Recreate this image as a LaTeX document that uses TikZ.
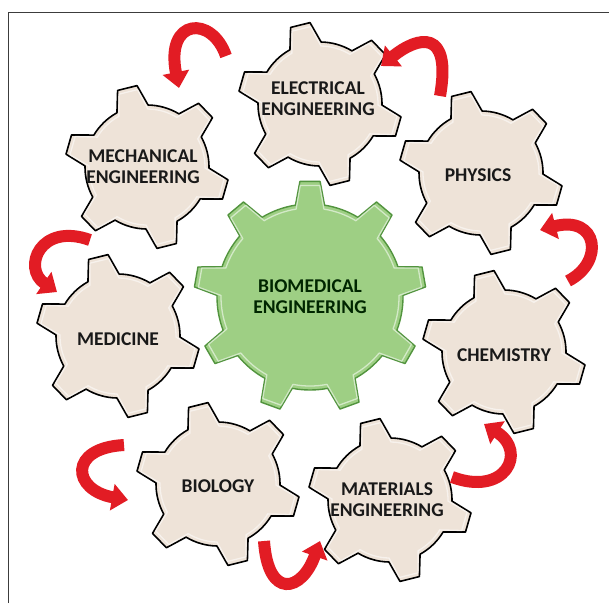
\documentclass[tikz,border=0pt]{standalone}
\usepackage{fontspec}
\setmainfont{Carlito}
\usetikzlibrary{arrows.meta,calc}
\definecolor{beige}{RGB}{238,227,216}
\definecolor{gfill}{RGB}{158,207,132}
\definecolor{gline}{RGB}{82,148,62}
\definecolor{ared}{RGB}{226,28,36}
\definecolor{framecol}{RGB}{60,60,60}
\definecolor{txt}{RGB}{25,25,25}
% #1 style, #2 centre, #3 teeth, #4 r1, #5 r2, #6 offset, #7 base half-angle, #8 tip half-angle
\newcommand\mygear[8]{%
  \pgfmathsetmacro\gstep{360/#3}%
  \begin{scope}[shift={(#2)}]
  \draw[#1] ({#6-#7}:#4)
    \foreach \k [evaluate=\k as \ga using {#6+(\k-1)*\gstep}] in {1,...,#3} {
      -- ({\ga-#8}:#5) -- ({\ga+#8}:#5) -- ({\ga+#7}:#4)
      arc[start angle={\ga+#7}, end angle={\ga+\gstep-#7}, radius=#4]
    } -- cycle;
  \end{scope}}
\tikzset{
  smallgear/.style={fill=beige, draw=black, line width=1.6pt, line join=round},
  biggear/.style={fill=gfill, draw=gline, line width=1.4pt, line join=round},
  gloss/.style={draw=white, line width=1.3pt, opacity=.55, line join=round},
  lbl/.style={font=\fontsize{19.5}{21}\selectfont\bfseries, align=center, text=txt, inner sep=0pt},
  rarrow/.style={draw=ared, line width=12pt, -{Triangle[width=26pt,length=16pt]}},
}
\begin{document}
\begin{tikzpicture}[x=1pt,y=1pt,yscale=-1]
\useasboundingbox (0,0) rectangle (609,603);
\fill[white] (0,0) rectangle (609,603);
\draw[framecol, line width=1pt] (8.5,603) -- (8.5,12) -- (609,12);

% centre gear
\mygear{biggear}{310,297}{9}{93}{116}{30}{9}{5}
\mygear{gloss}{310,297}{9}{89}{112}{30}{9}{5}

% outer gears
\foreach \c in {{320,104},{147,167},{481,173},{118,336},{504,352},{218,484},{390,500}} {
  \mygear{smallgear}{\c}{6}{62}{82}{16}{15}{7}
  \mygear{gloss}{\c}{6}{58}{78}{16}{15}{7}
}

% labels
\node[lbl, text=black!85!green] (bme)  at (310,297) {BIOMEDICAL\\ENGINEERING};
\node[lbl] (elec) at (318,99)  {ELECTRICAL\\ENGINEERING};
\node[lbl] (mech) at (143,167) {MECHANICAL\\ENGINEERING};
\node[lbl] (phys) at (478,175) {PHYSICS};
\node[lbl] (medi) at (118,339) {MEDICINE};
\node[lbl] (chem) at (504,355) {CHEMISTRY};
\node[lbl] (biol) at (218,486) {BIOLOGY};
\node[lbl] (mate) at (387,500) {MATERIALS\\ENGINEERING};

% arrow end points
\coordinate (a1s) at (226,56);  \coordinate (a1e) at (179,88);
\coordinate (a2s) at (440,96);  \coordinate (a2e) at (381,66);
\coordinate (a3s) at (568,281); \coordinate (a3e) at (540,230);
\coordinate (a4s) at (90,240);  \coordinate (a4e) at (57,292);
\coordinate (a5s) at (124,445); \coordinate (a5e) at (128,500);
\coordinate (a6s) at (264,541); \coordinate (a6e) at (320,541);
\coordinate (a7s) at (452,477); \coordinate (a7e) at (484,424);

\draw[rarrow] (a1s) .. controls (212,15) and (165,18) .. (a1e);
\draw[rarrow] (a2s) .. controls (452,28) and (418,36) .. (a2e);
\draw[rarrow] (a3s) .. controls (605,262) and (598,215) .. (a3e);
\draw[rarrow] (a4s) .. controls (40,222) and (22,268) .. (a4e);
\draw[rarrow] (a5s) .. controls (68,448) and (72,490) .. (a5e);
\draw[rarrow] (a6s) .. controls (268,600) and (302,592) .. (a6e);
\draw[rarrow] (a7s) .. controls (505,497) and (528,452) .. (a7e);
\end{tikzpicture}
\end{document}
